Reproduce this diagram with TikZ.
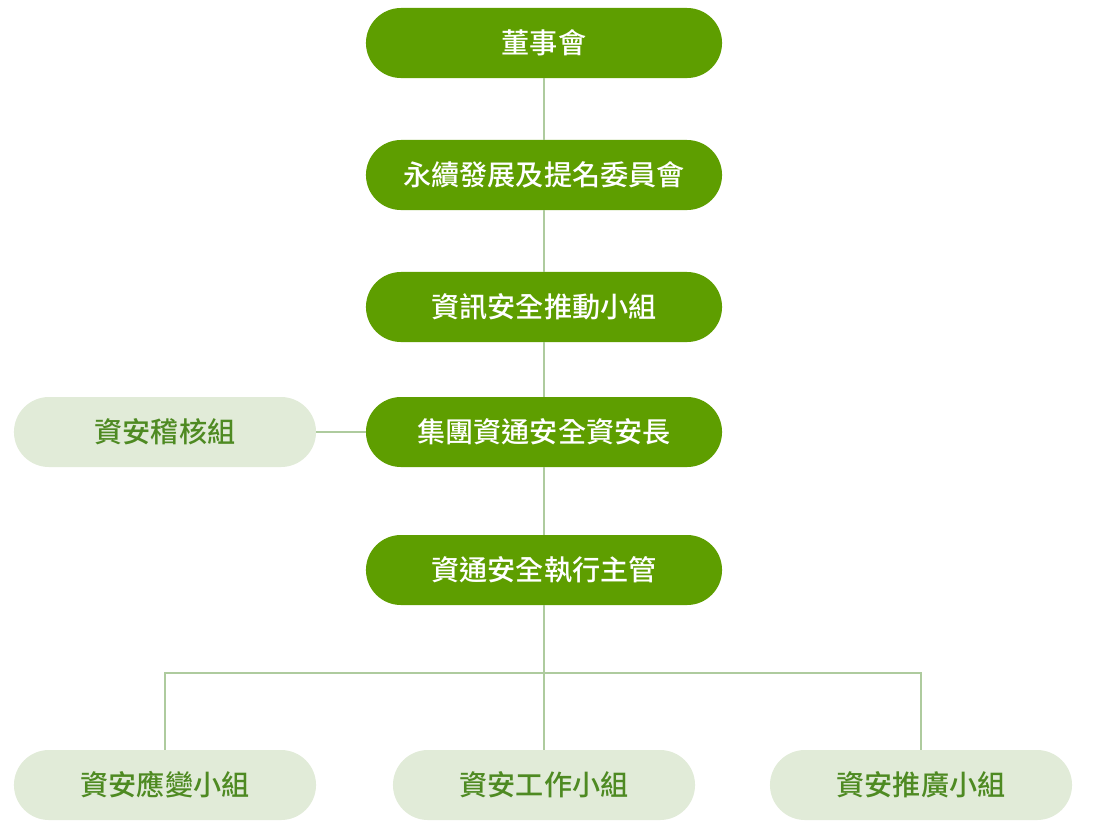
\documentclass[tikz,border=0pt]{standalone}
\usepackage{fontspec}
\usepackage{tikz}
\usetikzlibrary{positioning}
\newfontfamily\cjk{Noto Sans CJK TC Medium}
\definecolor{leafgreen}{HTML}{5E9E00}
\definecolor{palegreen}{HTML}{E1EBD8}
\definecolor{textgreen}{HTML}{4E8A22}
\definecolor{wiregreen}{HTML}{AECB9E}

\begin{document}
\begin{tikzpicture}[
x=0.025cm, y=-0.025cm,
unit/.style={rounded corners=0.875cm, minimum height=1.75cm, align=center, font=\cjk\fontsize{20}{24}\selectfont, inner sep=0pt},
lead/.style={unit, fill=leafgreen, text=white, minimum width=8.9cm},
team/.style={unit, fill=palegreen, text=textgreen, minimum width=7.55cm},
wire/.style={draw=wiregreen, line width=1.4pt}
]
\useasboundingbox (0,0) rectangle (1096,823);
% main column
\node[lead] (board) at (544,43) {董事會};
\node[lead] (esg) at (544,175) {永續發展及提名委員會};
\node[lead] (push) at (544,307) {資訊安全推動小組};
\node[lead] (ciso) at (544,432) {集團資通安全資安長};
\node[team] (audit) at (165,432) {資安稽核組};
\node[lead] (exec) at (544,570) {資通安全執行主管};
% bottom row
\node[team] (resp) at (165,785) {資安應變小組};
\node[team] (work) at (544,785) {資安工作小組};
\node[team] (promo) at (921,785) {資安推廣小組};
\coordinate (bus) at (544,673);
\draw[wire] (board) -- (esg);
\draw[wire] (esg) -- (push);
\draw[wire] (push) -- (ciso);
\draw[wire] (ciso) -- (exec);
\draw[wire] (audit) -- (ciso);
\draw[wire] (exec) -- (work);
\draw[wire] (resp.north) |- (bus) -| (promo.north);
\end{tikzpicture}
\end{document}
